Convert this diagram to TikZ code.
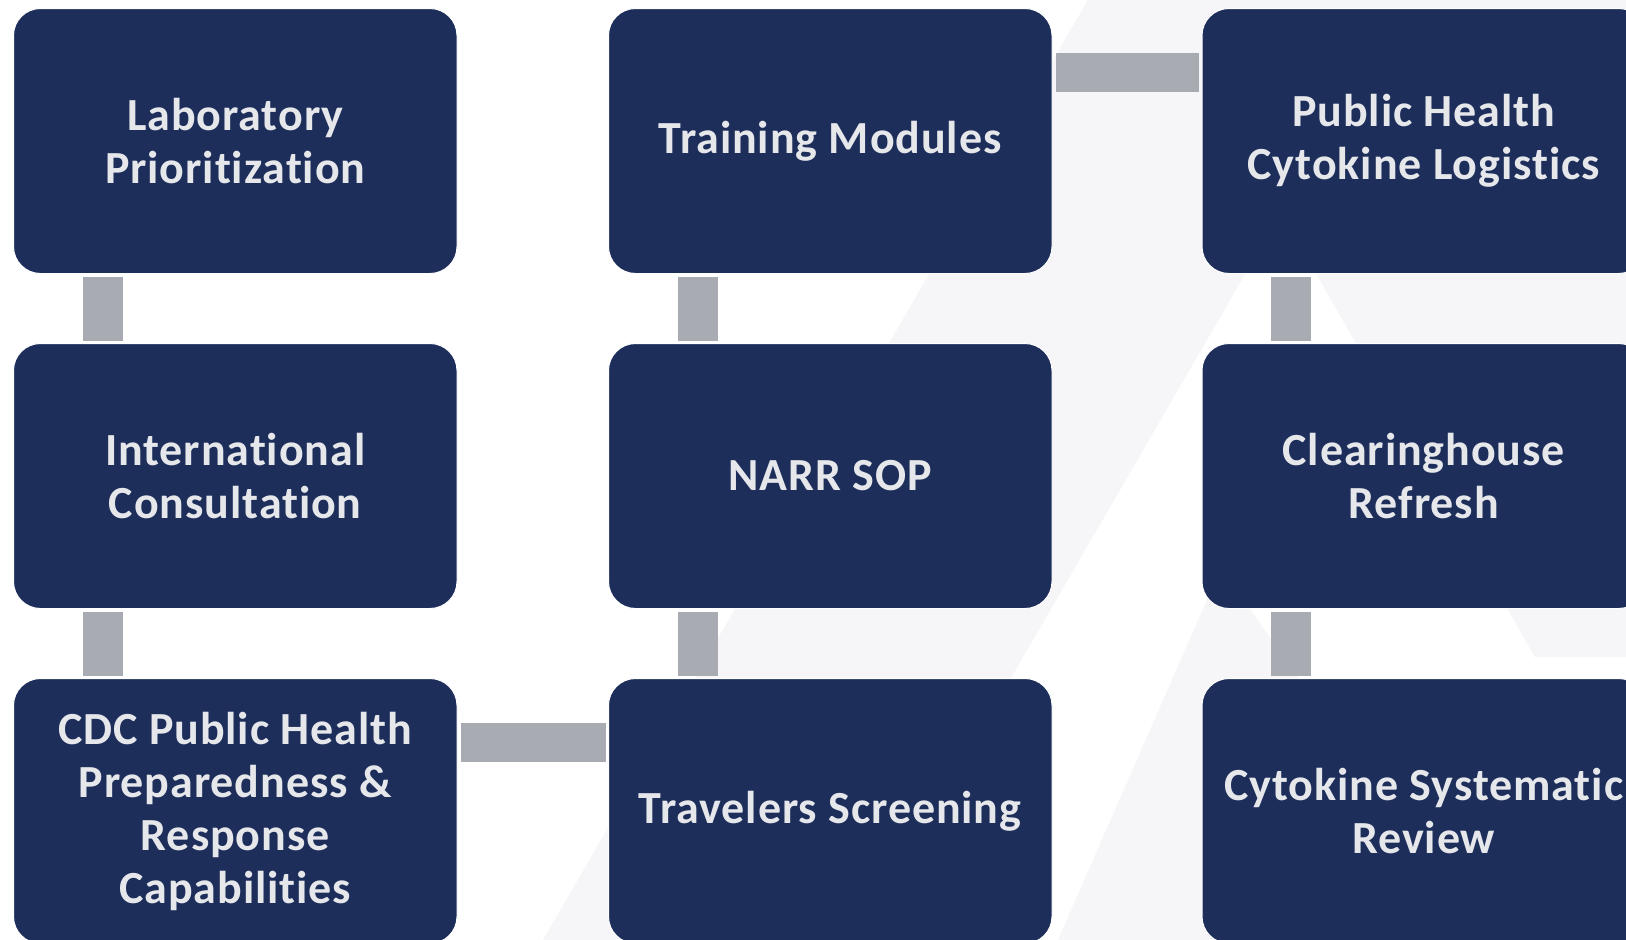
\documentclass[tikz,border=0pt]{standalone}
\usepackage{fontspec}
\setmainfont{Carlito}[Ligatures={NoCommon}, LetterSpace=2]
\definecolor{navy}{HTML}{1D2E5B}
\definecolor{txt}{HTML}{E6E7EA}
\definecolor{cgray}{HTML}{A8ABB2}
\definecolor{bgl}{HTML}{F6F6F8}
\begin{document}
\begin{tikzpicture}[x=1pt,y=-1pt,
  box/.style={draw=white, line width=1pt, fill=navy, rounded corners=27pt,
    minimum width=443.5pt, minimum height=265pt, inner sep=0pt, outer sep=0pt,
    anchor=north west, align=center, text=txt,
    font=\bfseries\fontsize{46}{53}\selectfont},
  conn/.style={line width=40pt, draw=cgray},
  hconn/.style={line width=39pt, draw=cgray}]
\path[use as bounding box] (0,0) rectangle (1626,940);
\clip (0,0) rectangle (1626,940);
\fill[white] (0,0) rectangle (1626,940);
% faint background shapes
\fill[bgl] (1088,0) -- (1404,0) -- (859,940) -- (543,940) -- cycle;
\fill[bgl] (1160,0) -- (1535,657) -- (1626,657) -- (1626,0) -- cycle;
\fill[bgl] (1221,568) -- (1483,940) -- (1058,940) -- cycle;
% boxes
\node[box] (n1) at (13.5,8.5) {Laboratory\\Prioritization};
\node[box] (n2) at (13.5,343.5) {International\\Consultation};
\node[box] (n3) at (13.5,678.5) {CDC Public Health\\Preparedness \&\\Response\\Capabilities};
\node[box] (n4) at (608.5,678.5) {Travelers Screening};
\node[box] (n5) at (608.5,343.5) {NARR SOP};
\node[box] (n6) at (608.5,8.5) {Training Modules};
\node[box] (n7) at (1202,8.5) {Public Health\\Cytokine Logistics};
\node[box] (n8) at (1202,343.5) {Clearinghouse\\Refresh};
\node[box] (n9) at (1202,678.5) {Cytokine Systematic\\Review};
% connectors
\draw[conn] ([xshift=89pt,yshift=-3pt]n1.south west) -- ([xshift=89pt,yshift=3pt]n2.north west);
\draw[conn] ([xshift=89pt,yshift=-3pt]n2.south west) -- ([xshift=89pt,yshift=3pt]n3.north west);
\draw[hconn] ([xshift=4pt,yshift=-64pt]n3.north east) -- ([xshift=-3pt,yshift=-64pt]n4.north west);
\draw[conn] ([xshift=89pt,yshift=3pt]n4.north west) -- ([xshift=89pt,yshift=-3pt]n5.south west);
\draw[conn] ([xshift=89pt,yshift=3pt]n5.north west) -- ([xshift=89pt,yshift=-3pt]n6.south west);
\draw[hconn] ([xshift=4pt,yshift=-64pt]n6.north east) -- ([xshift=-3pt,yshift=-64pt]n7.north west);
\draw[conn] ([xshift=89pt,yshift=-3pt]n7.south west) -- ([xshift=89pt,yshift=3pt]n8.north west);
\draw[conn] ([xshift=89pt,yshift=-3pt]n8.south west) -- ([xshift=89pt,yshift=3pt]n9.north west);
\end{tikzpicture}
\end{document}
